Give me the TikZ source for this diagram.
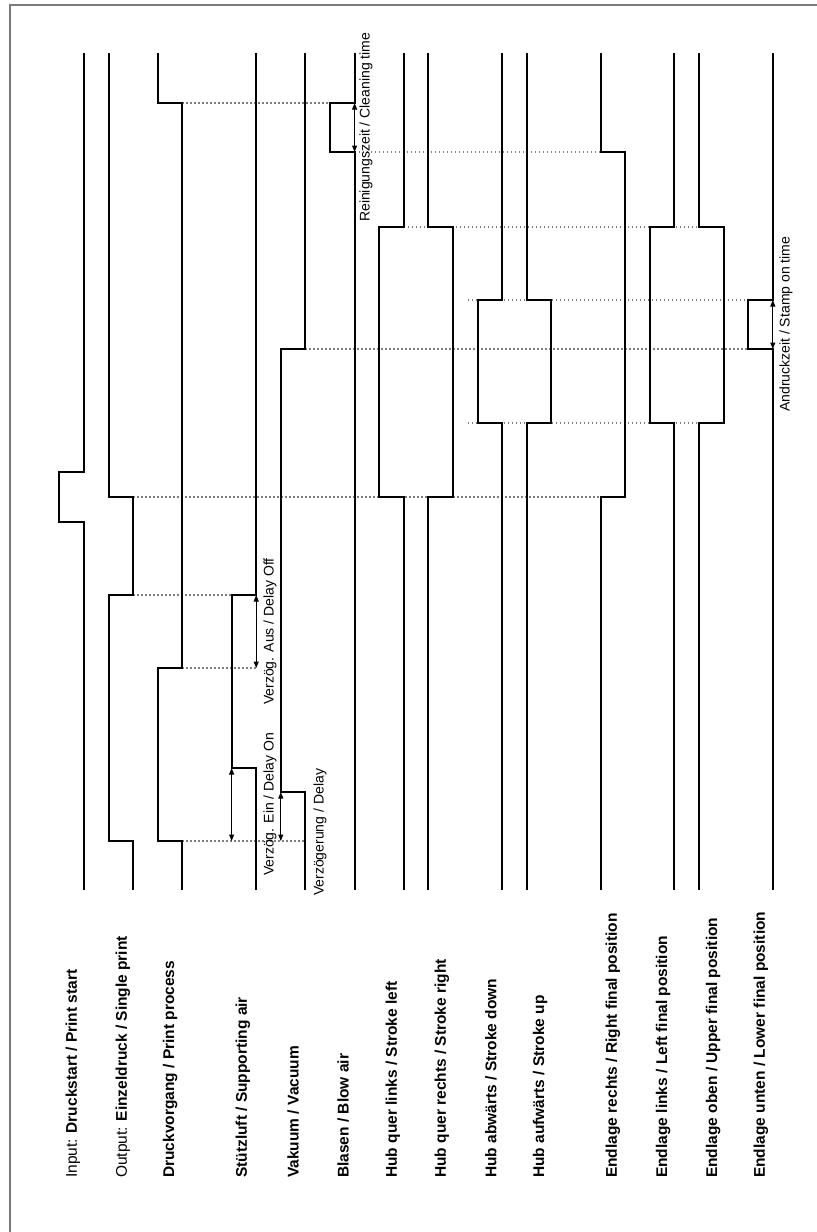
\documentclass[tikz,border=0pt]{standalone}
\usepackage{fontspec}
\setmainfont{Liberation Sans}
\usepackage{tikz}
\usetikzlibrary{arrows.meta}
\definecolor{tdFrame}{HTML}{7A7A7A}
\definecolor{tdDot}{HTML}{7F7F7F}
\tikzset{sig/.style={line width=2pt,line join=miter},
  hint/.style={tdDot,line width=1.3pt,dash pattern=on 1.3pt off 2.7pt},
  dim/.style={line width=1pt,{Triangle[length=6.5pt,width=5pt]}-{Triangle[length=6.5pt,width=5pt]}},
  lbl/.style={rotate=90,anchor=west,inner sep=0pt,font=\fontsize{15.5}{18}\selectfont\bfseries},
  note/.style={rotate=90,anchor=west,inner sep=0pt,font=\fontsize{14}{16}\selectfont}}

\begin{document}
\begin{tikzpicture}[x=24.6pt,y=-1pt]
\useasboundingbox (-3.415,0) rectangle (29.756,1232);
\def\ya{53}\def\yb{890}
\draw[tdFrame,line width=1.6pt] (30.5,5) -| (-3.008,1240);
\foreach \y/\a/\b in {103/4/10,152/11/21,227/13/25,300/15.6/27,349/9/27,423/15.6/26,497/2/21,595/2/6,668/4/7,841/4/9}
  \draw[hint] (\a,\y) -- (\b,\y);
\foreach \c/\d/\a/\b in {0/-1/472/522,7/-1/595/768,9/-1/349/792,11/-1/103/152,13/-1/227/497,14/1/227/497,17/-1/300/423,18/1/300/423,21/1/152/497,24/-1/227/423,25/1/227/423,28/-1/300/349}
  \draw[sig] (\c,\ya) |- ({\c+\d},\a) |- (\c,\b) -- (\c,\yb);
\draw[sig] (1,\ya) |- (2,497) |- (1,595) |- (2,841) -- (2,\yb);
\draw[sig] (3,\ya) |- (4,103) |- (3,668) |- (4,841) -- (4,\yb);
\coordinate (clA) at (11,103);\coordinate (clB) at (11,152);
\coordinate (stA) at (28,300);\coordinate (stB) at (28,349);
\coordinate (offA) at (7,595);\coordinate (offB) at (7,668);
\coordinate (onA) at (6,768);\coordinate (onB) at (6,841);
\coordinate (vkA) at (8,792);\coordinate (vkB) at (8,841);
\draw[dim] (clA) -- (clB);\draw[dim] (stA) -- (stB);
\draw[dim] (offA) -- (offB);\draw[dim] (onA) -- (onB);\draw[dim] (vkA) -- (vkB);
\node[note] (clT) at (11.46,222) {Reinigungszeit / Cleaning time};
\node[note] (stT) at (28.54,412) {Andruckzeit / Stamp on time};
\node[note] (offT) at (7.56,705) {Verzög. Aus / Delay Off};
\node[note] (onT) at (7.56,876) {Verzög. Ein / Delay On};
\node[note] (vkT) at (9.59,896) {Verzögerung / Delay};
\foreach \x/\t [count=\i] in {-0.45/{{\mdseries Input:} Druckstart / Print start},
  1.585/{{\mdseries Output:} Einzeldruck / Single print},
  3.5/{Druckvorgang / Print process},6.46/{Stützluft / Supporting air},
  8.5/{Vakuum / Vacuum},10.53/{Blasen / Blow air},
  12.56/{Hub quer links / Stroke left},14.55/{Hub quer rechts / Stroke right},
  16.54/{Hub abwärts / Stroke down},18.54/{Hub aufwärts / Stroke up},
  21.5/{Endlage rechts / Right final position},23.54/{Endlage links / Left final position},
  25.57/{Endlage oben / Upper final position},27.52/{Endlage unten / Lower final position}}
  \node[lbl] (lab\i) at (\x,1178) {\t};
\end{tikzpicture}
\end{document}
